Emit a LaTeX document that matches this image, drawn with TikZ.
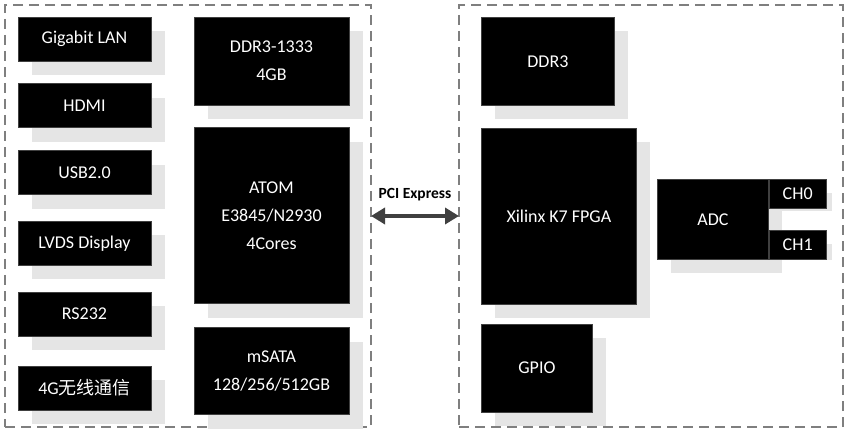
\documentclass[tikz,border=0pt]{standalone}
\usepackage{fontspec}
\setmainfont{Carlito}
\newfontfamily\cjk{Noto Sans CJK SC}
\usepackage{tikz}
\usetikzlibrary{positioning, arrows.meta, shadows, backgrounds}
\definecolor{edge}{HTML}{404040}
\definecolor{shadowgray}{HTML}{E5E5E5}
\definecolor{frameline}{HTML}{7F7F7F}

\begin{document}
\begin{tikzpicture}[
  x=1pt, y=-1pt,
  every node/.style={font=\fontsize{18}{28}\selectfont, align=center, text=white},
  box/.style={rectangle, draw=edge, line width=0.8pt, fill=black, inner sep=2pt},
  block/.style={box, drop shadow={shadow xshift=14pt, shadow yshift=-14pt,
                fill=shadowgray, opacity=1}},
  port/.style={block, minimum width=133pt, minimum height=44pt},
  chip/.style={block, minimum width=155pt, minimum height=88pt},
  chan/.style={box, minimum width=57pt, minimum height=29pt},
  frame/.style={draw=frameline, line width=2pt, dash pattern=on 10pt off 6pt,
                inner sep=0pt, outer sep=0pt},
  pcie/.style={{Triangle[length=14pt, width=16pt]}-{Triangle[length=14pt, width=16pt]},
               edge, line width=3.5pt}
]
\useasboundingbox (0,0) rectangle (850,435);

% dashed frames
\node[frame, minimum width=366pt, minimum height=422pt] (host)  at (188,216) {};
\node[frame, minimum width=384pt, minimum height=422pt] (board) at (651,216) {};

% host side: ports
\node[port] (lan) at (84.5,39) {Gigabit LAN};
\node[port, below=22pt of lan]   (hdmi)  {HDMI};
\node[port, below=22pt of hdmi]  (usb)   {USB2.0};
\node[port, below=26pt of usb]   (lvds)  {LVDS Display};
\node[port, below=26pt of lvds]  (rs)    {RS232};
\node[port, below=29pt of rs]    (lte)   {4G{\cjk 无线通信}};

% host side: cpu column
\node[chip] (ddr) at (271.5,61) {DDR3-1333\\4GB};
\node[chip, minimum height=176pt, below=22pt of ddr] (atom) {ATOM\\E3845/N2930\\4Cores};
\node[chip, minimum height=87pt, below=23pt of atom] (msata) {mSATA\\128/256/512GB};

% board side
\node[chip, minimum width=133pt, anchor=north west] (ddrb) at (481,17) {DDR3};
\node[chip, minimum height=176pt, below right=22pt and 0pt of ddrb.south west] (fpga) {Xilinx K7 FPGA};
\node[chip, minimum width=111pt, below right=19pt and 0pt of fpga.south west] (gpio) {GPIO};

\node[block, minimum width=111pt, minimum height=80pt, anchor=north west] (adc) at (657,179) {ADC};
\node[chan, anchor=north west] (ch0) at (adc.north east) {CH0};
\node[chan, anchor=south west] (ch1) at (adc.south east) {CH1};

\begin{scope}[on background layer]
  \fill[shadowgray] ([shift={(5,14)}]ch0.north west) rectangle ([shift={(5,2)}]ch0.south east);
  \fill[shadowgray] ([shift={(5,14)}]ch1.north west) rectangle ([shift={(5,0)}]ch1.south east);
\end{scope}

% link
\draw[pcie] (host.east) -- node[above=10pt, text=black,
    font=\fontsize{15.5}{18}\bfseries\selectfont] (pcilbl) {PCI Express} (board.west);
\end{tikzpicture}
\end{document}
